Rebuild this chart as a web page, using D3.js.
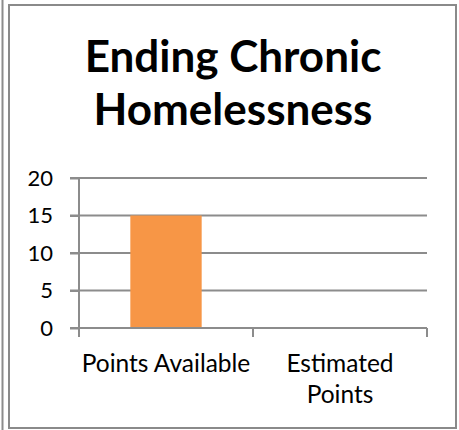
<!DOCTYPE html>
<html><head><meta charset="utf-8">
<script src="https://cdnjs.cloudflare.com/ajax/libs/d3/7.8.5/d3.min.js"></script>
<style>html,body{margin:0;padding:0;background:#fff;}svg{display:block;}</style>
</head><body>
<script>
const titleLines = ["Ending Chronic", "Homelessness"];
const categories = ["Points Available", "Estimated Points"];
const values = [15, 0];
const yTicks = [0, 5, 10, 15, 20];

const W = 459, H = 430;
const svg = d3.select("body").append("svg").attr("width", W).attr("height", H);
const font = "Lato, 'Open Sans', sans-serif";

// outer frame lines
svg.append("line").attr("x1", 2.5).attr("x2", 2.5).attr("y1", 0).attr("y2", H)
  .attr("stroke", "#8c8c8c").attr("stroke-width", 2);
svg.append("rect").attr("x", 9).attr("y", 5).attr("width", 447).attr("height", 423)
  .attr("fill", "none").attr("stroke", "#8a8a8a").attr("stroke-width", 2);

// title
svg.append("g").selectAll("text").data(titleLines).join("text")
  .attr("x", 233).attr("y", (d, i) => 72 + i * 53)
  .attr("text-anchor", "middle").attr("font-family", font).attr("font-weight", 700)
  .attr("font-size", 44).attr("fill", "#000").text(d => d);

const x = d3.scaleBand().domain(categories).range([79, 427]).paddingInner(0).paddingOuter(0);
const y = d3.scaleLinear().domain([0, 20]).range([328, 178]);

// gridlines
svg.append("g").selectAll("line").data(yTicks).join("line")
  .attr("x1", 70).attr("x2", 427).attr("y1", d => y(d)).attr("y2", d => y(d))
  .attr("stroke", "#8c8c8c").attr("stroke-width", 2);

// bars
const bw = x.bandwidth() * 0.41;
svg.append("g").selectAll("rect").data(categories).join("rect")
  .attr("x", d => x(d) + (x.bandwidth() - bw) / 2)
  .attr("y", (d, i) => y(values[i]))
  .attr("width", bw)
  .attr("height", (d, i) => y(0) - y(values[i]))
  .attr("fill", "#F79646");

// y axis
const yAxis = d3.axisLeft(y).tickValues(yTicks).tickSize(9).tickPadding(17);
const gy = svg.append("g").attr("transform", "translate(79,0)").call(yAxis);
gy.select(".domain").attr("stroke", "#8c8c8c").attr("stroke-width", 2).attr("d", "M0," + y(20) + "V" + y(0));
gy.selectAll(".tick line").attr("stroke", "#8c8c8c").attr("stroke-width", 2);
gy.selectAll("text").attr("font-family", font).attr("font-size", 22).attr("fill", "#000");

// x axis
const gx = svg.append("g");
gx.append("line").attr("x1", 79).attr("x2", 427).attr("y1", y(0)).attr("y2", y(0))
  .attr("stroke", "#8c8c8c").attr("stroke-width", 2);
gx.selectAll("line.t").data(categories.concat([null])).join("line").attr("class", "t")
  .attr("x1", (d, i) => i < categories.length ? x(d) : x(categories[i - 1]) + x.bandwidth())
  .attr("x2", (d, i) => i < categories.length ? x(d) : x(categories[i - 1]) + x.bandwidth())
  .attr("y1", y(0)).attr("y2", y(0) + 9)
  .attr("stroke", "#8c8c8c").attr("stroke-width", 2);

const labelLines = [["Points Available"], ["Estimated", "Points"]];
categories.forEach((c, i) => {
  const t = svg.append("text").attr("text-anchor", "middle")
    .attr("font-family", font).attr("font-size", 24.5).attr("fill", "#000");
  labelLines[i].forEach((ln, j) => {
    t.append("tspan").attr("x", x(c) + x.bandwidth() / 2).attr("y", 372 + j * 31).text(ln);
  });
});
</script>
</body></html>
